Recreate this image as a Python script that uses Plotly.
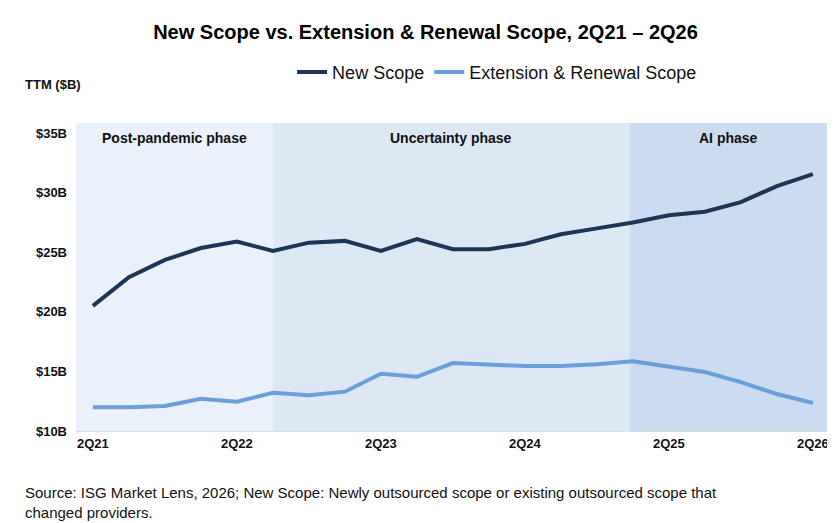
import plotly.graph_objects as go

quarters = ["2Q21","3Q21","4Q21","1Q22","2Q22","3Q22","4Q22","1Q23","2Q23","3Q23","4Q23",
            "1Q24","2Q24","3Q24","4Q24","1Q25","2Q25","3Q25","4Q25","1Q26","2Q26"]
new_scope = [20.5,22.9,24.35,25.35,25.9,25.1,25.8,25.95,25.1,26.1,25.25,25.25,25.7,26.5,27.0,27.5,28.1,28.4,29.2,30.55,31.55]
ext_scope = [12.0,12.0,12.1,12.7,12.45,13.2,13.0,13.3,14.8,14.55,15.7,15.6,15.45,15.45,15.6,15.85,15.4,14.95,14.1,13.1,12.35]
y_ticks = [10,15,20,25,30,35]
y_labels = ["$10B","$15B","$20B","$25B","$30B","$35B"]
phases = [("Post-pandemic phase", -0.47, 5, "#eaf1fa"),
          ("Uncertainty phase", 5, 14.9, "#dde8f5"),
          ("AI phase", 14.9, 20.42, "#cbdcf0")]

x = list(range(len(quarters)))
fig = go.Figure()
fig.add_trace(go.Scatter(x=x, y=new_scope, mode="lines", name="New Scope",
                         line=dict(color="#1f3556", width=4)))
fig.add_trace(go.Scatter(x=x, y=ext_scope, mode="lines", name="Extension & Renewal Scope",
                         line=dict(color="#6a9fdc", width=4)))
for name, x0, x1, c in phases:
    fig.add_shape(type="rect", x0=x0, x1=x1, y0=10, y1=35.84, xref="x", yref="y",
                  fillcolor=c, line_width=0, layer="below")
    fig.add_annotation(x=(x0+x1)/2, y=34.6, text=f"<b>{name}</b>", showarrow=False,
                       font=dict(size=14, color="#111"))
fig.update_layout(
    width=835, height=523, plot_bgcolor="white", paper_bgcolor="white",
    font=dict(family="Liberation Sans, Arial", color="#111"),
    margin=dict(l=68, r=15, t=115, b=100),
    title=dict(text="<b>New Scope vs. Extension & Renewal Scope, 2Q21 – 2Q26</b>",
               x=0.5, xanchor="center", y=0.955, yanchor="middle", font=dict(size=20, color="#000")),
    legend=dict(orientation="h", x=0.56, xanchor="center", y=1.165, yanchor="middle",
                font=dict(size=18), bgcolor="rgba(0,0,0,0)"),
    xaxis=dict(range=[-0.47, 20.42], tickmode="array", tickvals=x[::4], automargin=False,
               ticktext=[f"<b>{q}</b>" for q in quarters[::4]], showgrid=False,
               zeroline=False, tickfont=dict(size=13), showline=True, linecolor="#ddd"),
    yaxis=dict(range=[10, 35.84], tickmode="array", tickvals=y_ticks, automargin=False,
               ticktext=[f"<b>{t}</b>" for t in y_labels], showgrid=False, zeroline=False,
               tickfont=dict(size=13), ticklabelstandoff=8),
)
fig.add_annotation(xref="paper", yref="paper", x=-0.07, y=1.125, xanchor="left", yanchor="middle",
                   text="<b>TTM ($B)</b>", showarrow=False, font=dict(size=13))
fig.add_annotation(xref="paper", yref="paper", x=-0.07, y=-0.165, xanchor="left", yanchor="top", align="left",
                   text="Source: ISG Market Lens, 2026; New Scope: Newly outsourced scope or existing outsourced scope that<br>changed providers.",
                   showarrow=False, font=dict(size=15))
fig.write_html("out.html")
